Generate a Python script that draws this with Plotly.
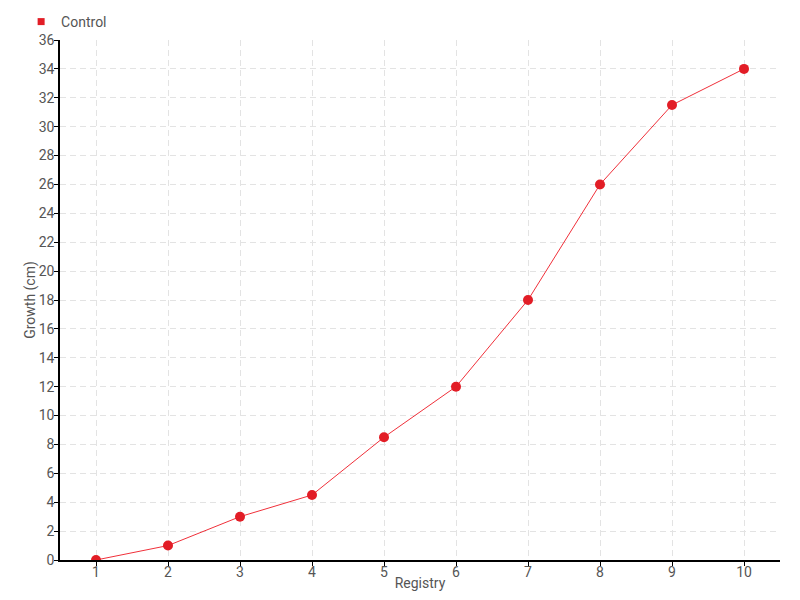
import plotly.graph_objects as go

registry = [1, 2, 3, 4, 5, 6, 7, 8, 9, 10]
growth = [0, 1, 3, 4.5, 8.5, 12, 18, 26, 31.5, 34]
series_name = "Control"
x_title = "Registry"
y_title = "Growth (cm)"

FONT = "Roboto, sans-serif"
TXT = "#555555"

fig = go.Figure()
fig.add_trace(go.Scatter(
    x=registry, y=growth, name=series_name, mode="lines+markers",
    line=dict(color="#f0303a", width=1),
    marker=dict(color="#e21d26", size=10, symbol="circle"),
    showlegend=False, legendgroup="c",
))
# legend entry (square swatch only)
fig.add_trace(go.Scatter(
    x=[None], y=[None], name=series_name, mode="markers",
    marker=dict(color="#e21d26", size=7, symbol="square"),
    showlegend=True, legendgroup="c",
))

fig.update_layout(
    width=800, height=600,
    margin=dict(l=60, r=20, t=40, b=40, autoexpand=False),
    plot_bgcolor="white", paper_bgcolor="white",
    font=dict(family=FONT, size=14, color=TXT),
    showlegend=True,
    legend=dict(x=-0.054, y=1.0346, xanchor="left", yanchor="middle", orientation="h",
                font=dict(size=14, color=TXT), bgcolor="rgba(0,0,0,0)"),
    xaxis=dict(
        range=[0.5, 10.5], tickvals=registry, ticktext=[str(v) for v in registry],
        showline=True, linecolor="black", linewidth=1.5,
        ticks="outside", ticklen=4, tickcolor="black",
        ticklabelstandoff=-6,
        showgrid=True, gridcolor="#e3e3e3", griddash="6px,4px", gridwidth=1,
        zeroline=False, automargin=False,
        title=dict(text=x_title, standoff=0, font=dict(size=14, color=TXT)),
    ),
    yaxis=dict(
        range=[0, 36], dtick=2, tick0=0,
        showline=True, linecolor="black", linewidth=1.5,
        ticks="outside", ticklen=4, tickcolor="black",
        ticklabelstandoff=-3,
        showgrid=True, gridcolor="#e3e3e3", griddash="6px,4px", gridwidth=1,
        zeroline=False, automargin=False,
        title=dict(text=y_title, standoff=0, font=dict(size=14, color=TXT)),
    ),
)

fig.write_html("out.html", config={"displayModeBar": False},
               post_script="document.body.style.margin='0';")
